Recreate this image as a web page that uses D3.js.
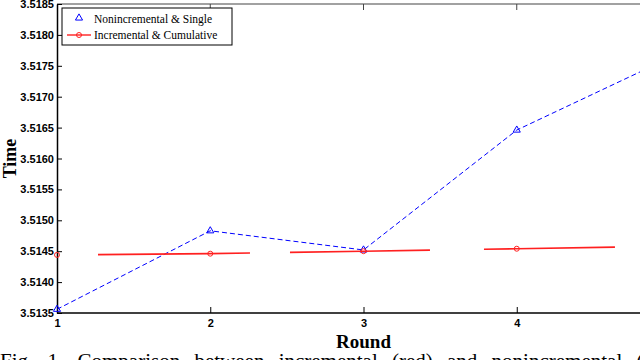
<!DOCTYPE html>
<html>
<head>
<script src="https://d3js.org/d3.v7.min.js"></script>
<style>
  body { margin: 0; background: #fff; }
  svg { display: block; font-family: "Liberation Serif", "DejaVu Serif", serif; }
</style>
</head>
<body>
<div id="chart"></div>
<script>
  // data
  var rounds = [1, 2, 3, 4, 5];
  var nonincSingle = [3.51356, 3.51483, 3.51452, 3.51646, 3.51763];
  var incCumulative = [3.51444, 3.51446, 3.51450, 3.51454, 3.51458];
  var yTicks = [3.5135, 3.5140, 3.5145, 3.5150, 3.5155, 3.5160, 3.5165, 3.5170, 3.5175, 3.5180, 3.5185];
  var xTicks = [1, 2, 3, 4];
  var seriesNames = ["Nonincremental & Single", "Incremental & Cumulative"];

  var width = 640, height = 360;
  var margin = {top: 4, left: 57, bottom: 313, right: 670};

  var svg = d3.select("#chart").append("svg")
      .attr("width", width)
      .attr("height", height);

  var x = d3.scaleLinear().domain([1, 5]).range([margin.left, margin.right]);
  var y = d3.scaleLinear().domain([3.5135, 3.5185]).range([margin.bottom, margin.top]);

  // frame top
  svg.append("line")
      .attr("x1", margin.left).attr("x2", width)
      .attr("y1", margin.top).attr("y2", margin.top)
      .style("stroke", "#444").style("stroke-width", 1.2);
  svg.selectAll(".ttick").data(xTicks.slice(1)).enter().append("line")
      .attr("x1", function(d) { return x(d); }).attr("x2", function(d) { return x(d); })
      .attr("y1", margin.top).attr("y2", margin.top + 6)
      .style("stroke", "#444");

  // axes, matlab style inward ticks
  var xAxis = svg.append("g")
      .attr("transform", "translate(0," + margin.bottom + ")")
      .call(d3.axisBottom(x).tickValues(xTicks).tickFormat(d3.format("d")).tickSizeInner(-6).tickSizeOuter(0).tickPadding(6));
  xAxis.select(".domain").attr("d", "M" + margin.left + ",0H" + width).style("stroke-width", 1.5);
  xAxis.selectAll("text").style("font-size", "11px").style("font-weight", "bold");

  var yAxis = svg.append("g")
      .attr("transform", "translate(" + margin.left + ",0)")
      .call(d3.axisLeft(y).tickValues(yTicks).tickFormat(d3.format(".4f")).tickSizeInner(-5).tickSizeOuter(0).tickPadding(3));
  yAxis.select(".domain").style("stroke-width", 1.5);
  yAxis.selectAll("text").style("font-size", "11px").style("font-weight", "bold");

  // blue series
  var line = d3.line()
      .x(function(d, i) { return x(rounds[i]); })
      .y(function(d) { return y(d); });

  svg.append("path")
      .datum(nonincSingle)
      .attr("d", line)
      .style("fill", "none")
      .style("stroke", "#0000ff")
      .style("stroke-width", 1)
      .style("stroke-dasharray", "5,3");

  var tri = d3.symbol().type(d3.symbolTriangle).size(22);
  svg.selectAll(".tri").data(nonincSingle).enter().append("path")
      .attr("d", tri)
      .attr("transform", function(d, i) { return "translate(" + x(rounds[i]) + "," + y(d) + ")"; })
      .style("fill", "none").style("stroke", "#0000ff");

  // red series, long dashes with gaps
  svg.append("path")
      .datum(incCumulative)
      .attr("d", line)
      .style("fill", "none")
      .style("stroke", "#ff2020")
      .style("stroke-width", 1.6)
      .style("stroke-dasharray", "0,41,152,40,140,54,131,100");

  svg.selectAll(".circ").data(incCumulative).enter().append("circle")
      .attr("cx", function(d, i) { return x(rounds[i]); })
      .attr("cy", function(d) { return y(d); })
      .attr("r", 2.5)
      .style("fill", "none").style("stroke", "#ff2020");

  // axis labels
  svg.append("text")
      .attr("transform", "translate(16," + ((margin.top + margin.bottom) / 2) + ") rotate(-90)")
      .style("text-anchor", "middle")
      .style("font-size", "18px").style("font-weight", "bold")
      .text("Time");

  svg.append("text")
      .attr("x", x(3)).attr("y", 348)
      .style("text-anchor", "middle")
      .style("font-size", "19px").style("font-weight", "bold")
      .text("Round");

  // caption, cut by the frame
  svg.append("text")
      .attr("x", 0).attr("y", 368)
      .style("font-size", "21px")
      .style("word-spacing", "9px")
      .text("Fig. 1.  Comparison between incremental (red) and nonincremental (blue)");

  // legend
  var lg = svg.append("g");
  lg.append("rect")
      .attr("x", 62).attr("y", 8).attr("width", 170).attr("height", 37)
      .style("fill", "#fff").style("stroke", "#000");
  lg.append("path")
      .attr("d", tri)
      .attr("transform", "translate(79,18)")
      .style("fill", "none").style("stroke", "#0000ff");
  lg.append("line")
      .attr("x1", 67).attr("x2", 91).attr("y1", 35).attr("y2", 35)
      .style("stroke", "#ff2020").style("stroke-width", 1.4);
  lg.append("circle")
      .attr("cx", 79).attr("cy", 35).attr("r", 2.5)
      .style("fill", "none").style("stroke", "#ff2020");
  lg.selectAll(".lt").data(seriesNames).enter().append("text")
      .attr("x", 94)
      .attr("y", function(d, i) { return 23 + i * 16; })
      .style("font-size", "11.5px")
      .text(function(d) { return d; });
</script>
</body>
</html>
